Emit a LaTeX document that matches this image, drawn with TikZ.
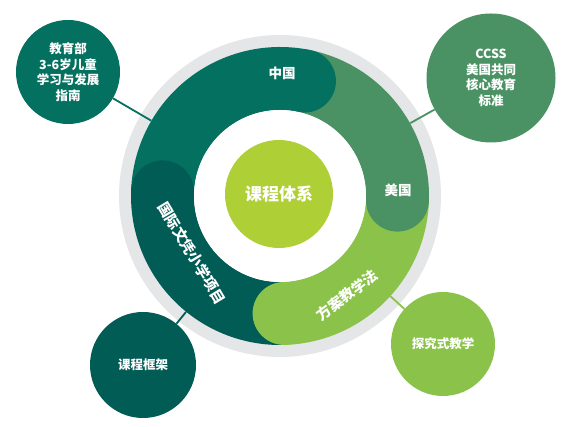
\documentclass[tikz,border=0pt]{standalone}
\usepackage{fontspec}
\setmainfont{Noto Sans CJK SC}
\usetikzlibrary{calc}
\definecolor{kcteal}{HTML}{04705F}
\definecolor{kcdeep}{HTML}{015C55}
\definecolor{kcgreen}{HTML}{4A9263}
\definecolor{kclight}{HTML}{8BC34A}
\definecolor{kclime}{HTML}{AFCF36}
\definecolor{kcgray}{HTML}{E5E6E7}
\tikzset{
  bubble/.style={circle, inner sep=0pt, text=white, align=center,
    font=\bfseries\fontsize{12.5}{15.5}\selectfont},
  seglabel/.style={inner sep=0pt, text=white, font=\bfseries\fontsize{13.5}{15}\selectfont},
  arclabel/.style={seglabel, font=\bfseries\fontsize{14.5}{16}\selectfont},
  link/.style={line width=1.8pt},
}

\begin{document}
\begin{tikzpicture}[x=1pt, y=1pt]
  \useasboundingbox (0,0) rectangle (580,427);
  \coordinate (c) at (280,231);
  \node[circle, fill=kcgray, minimum size=322pt, inner sep=0pt] (rim) at (c) {};
  \node[circle, minimum size=298pt, inner sep=0pt] (ring) at (c) {};

  \node[bubble, fill=kcteal, minimum size=104pt] (moe) at (68,355) {教育部\\3-6岁儿童\\学习与发展\\指南};
  \node[bubble, fill=kcgreen, minimum size=129pt] (ccss) at (491,349) {CCSS\\美国共同\\核心教育\\标准};
  \node[bubble, fill=kclight, minimum size=104pt] (inq) at (443,83) {探究式教学};
  \node[bubble, fill=kcdeep, minimum size=106pt] (frame) at (143,62) {课程框架};

  \draw[link, kcteal] (moe) -- (ring);
  \draw[link, kcgreen] (ccss) -- (ring);
  \draw[link, kclight] (inq) -- (ring);
  \draw[link, kcdeep] (frame) -- (ring);

  \foreach \a/\b/\col in {178/78/kcteal, 78/-2/kcgreen, -2/-88/kclight, -88/-182/kcdeep}
    \fill[\col] ($(c)+(\a:149pt)$) arc[start angle=\a, end angle=\b, radius=149pt]
      -- ($(c)+(\b:86pt)$) arc[start angle=\b, end angle=\a, radius=86pt] -- cycle;
  \foreach \b/\col in {78/kcteal, -2/kcgreen, -88/kclight, -182/kcdeep}
    \fill[\col] ($(c)+(\b:117.5pt)$) circle[radius=31.5pt];
  \fill[white] (c) circle[radius=86pt];

  \node[circle, fill=kclime, minimum size=108pt, inner sep=0pt, text=white,
    font=\bfseries\fontsize{17}{20}\selectfont] (core) at (279,233) {课程体系};
  \node[seglabel] (cn) at (282,354) {中国};
  \node[seglabel] (us) at (398,237) {美国};
  \node[arclabel, rotate=-59] (ib) at (192,174) {国际文凭小学项目};
  \node[arclabel, rotate=37] (pbl) at (347,132) {方案教学法};
\end{tikzpicture}
\end{document}
